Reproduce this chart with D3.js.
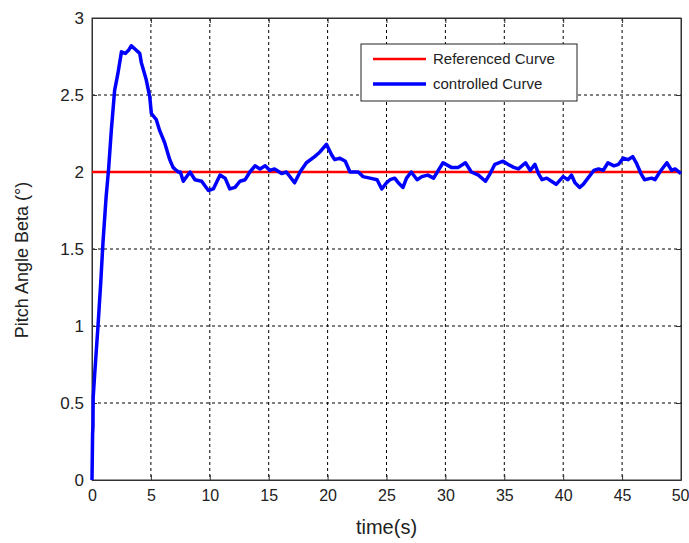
<!DOCTYPE html>
<html>
<head>
<meta charset="utf-8">
<script src="https://cdn.jsdelivr.net/npm/d3@7"></script>
<style>
  body { margin: 0; background: #fff; }
  svg text { font-family: "Liberation Sans", Arial, sans-serif; fill: #222; }
</style>
</head>
<body>
<div id="chart"></div>
<script>
// time axis (s) and pitch angle (deg)
var timeS = [0, 0.05, 0.08, 0.1, 0.12, 0.23, 0.5, 0.74, 0.93, 1.2, 1.4, 1.64, 1.92, 2.2, 2.5, 2.83, 3.1, 3.34, 3.76, 4.05,
  4.19, 4.6, 4.9, 5.04, 5.46, 5.74, 6.17, 6.6, 6.88, 7.16, 7.33, 7.5, 7.75, 8.32, 8.74, 9.31, 9.88, 10.3, 10.87, 11.3,
  11.7, 12.14, 12.56, 13.0, 13.4, 13.84, 14.26, 14.7, 15.1, 15.5, 15.9, 16.1, 16.5, 17.2, 17.66, 18.2, 18.9, 19.35, 19.9, 20.35,
  20.6, 21.05, 21.5, 21.9, 22.6, 23.0, 23.6, 24.2, 24.6, 25.0, 25.3, 25.7, 26.0, 26.4, 26.7, 27.1, 27.6, 28.0, 28.5, 29.0,
  29.4, 29.8, 30.5, 31.1, 31.7, 32.2, 32.8, 33.4, 33.8, 34.2, 34.9, 35.3, 35.8, 36.2, 36.8, 37.2, 37.6, 37.9, 38.2, 38.6,
  39.0, 39.4, 40.0, 40.4, 40.7, 41.0, 41.4, 41.7, 42.1, 42.6, 43.0, 43.4, 43.8, 44.3, 44.7, 45.1, 45.5, 45.9, 46.2, 46.6,
  46.9, 47.5, 47.8, 48.2, 48.8, 49.2, 49.5, 50];
var controlled = [0, 0.3, 0.34, 0.54, 0.56, 0.69, 0.99, 1.28, 1.54, 1.84, 2.01, 2.27, 2.53, 2.64, 2.78, 2.77, 2.79, 2.82, 2.79, 2.77,
  2.71, 2.6, 2.49, 2.38, 2.34, 2.27, 2.19, 2.08, 2.03, 2.01, 2.0, 2.0, 1.94, 2.0, 1.95, 1.94, 1.88, 1.89, 1.98, 1.96,
  1.89, 1.9, 1.94, 1.95, 2.0, 2.04, 2.02, 2.04, 2.01, 2.02, 2.0, 1.99, 2.0, 1.93, 2.0, 2.06, 2.1, 2.13, 2.18, 2.11,
  2.08, 2.09, 2.07, 2.0, 2.0, 1.97, 1.96, 1.95, 1.89, 1.93, 1.95, 1.96, 1.93, 1.9, 1.96, 2.0, 1.95, 1.97, 1.98, 1.96,
  2.01, 2.06, 2.03, 2.03, 2.06, 2.0, 1.98, 1.94, 1.99, 2.05, 2.07, 2.05, 2.03, 2.02, 2.06, 2.01, 2.05, 1.99, 1.95, 1.96,
  1.94, 1.92, 1.97, 1.95, 1.98, 1.93, 1.9, 1.92, 1.96, 2.01, 2.02, 2.01, 2.06, 2.04, 2.05, 2.09, 2.08, 2.1, 2.06, 1.99,
  1.95, 1.96, 1.95, 2.0, 2.06, 2.01, 2.02, 1.99];
var referenceValue = 2;
var xTicks = [0, 5, 10, 15, 20, 25, 30, 35, 40, 45, 50];
var yTicks = [0, 0.5, 1, 1.5, 2, 2.5, 3];
var seriesNames = ["Referenced Curve", "controlled Curve"];

var width = 689,
    height = 543,
    padLeft = 92,
    padTop = 18,
    plotW = 589,
    plotH = 462;

var svg = d3.select("#chart").append("svg")
    .attr("width", width)
    .attr("height", height);

var x = d3.scaleLinear().domain([0, 50]).range([padLeft, padLeft + plotW]);
var y = d3.scaleLinear().domain([0, 3]).range([padTop + plotH, padTop]);

// dashed grid
svg.append("g").selectAll("line").data(xTicks.slice(1, -1)).enter().append("line")
    .attr("x1", function(d) { return x(d); }).attr("x2", function(d) { return x(d); })
    .attr("y1", padTop).attr("y2", padTop + plotH)
    .attr("stroke", "#000").attr("stroke-width", 1).attr("stroke-dasharray", "3,3");
svg.append("g").selectAll("line").data(yTicks.slice(1, -1)).enter().append("line")
    .attr("x1", padLeft).attr("x2", padLeft + plotW)
    .attr("y1", function(d) { return y(d); }).attr("y2", function(d) { return y(d); })
    .attr("stroke", "#000").attr("stroke-width", 1).attr("stroke-dasharray", "3,3");

// axes with inward ticks
var xAxis = svg.append("g")
    .attr("transform", "translate(0," + (padTop + plotH) + ")")
    .call(d3.axisBottom(x).tickValues(xTicks).tickSizeInner(-5).tickSizeOuter(0).tickPadding(10).tickFormat(d3.format("d")));
var yAxis = svg.append("g")
    .attr("transform", "translate(" + padLeft + ",0)")
    .call(d3.axisLeft(y).tickValues(yTicks).tickSizeInner(-5).tickSizeOuter(0).tickPadding(8).tickFormat(function(d) { return String(d); }));
svg.append("g")
    .attr("transform", "translate(0," + padTop + ")")
    .call(d3.axisTop(x).tickValues(xTicks).tickSizeInner(-5).tickSizeOuter(0).tickFormat(""));
svg.append("g")
    .attr("transform", "translate(" + (padLeft + plotW) + ",0)")
    .call(d3.axisRight(y).tickValues(yTicks).tickSizeInner(-5).tickSizeOuter(0).tickFormat(""));

svg.selectAll(".domain").attr("stroke", "#333");
svg.selectAll(".tick line").attr("stroke", "#333");
xAxis.selectAll("text").style("font-size", "16px").attr("fill", "#333");
yAxis.selectAll("text").style("font-size", "17px").attr("fill", "#333");
// keep the last label inside the window
xAxis.selectAll(".tick:last-of-type text").attr("text-anchor", "end").attr("x", 8);

// box
svg.append("rect")
    .attr("x", padLeft).attr("y", padTop).attr("width", plotW).attr("height", plotH)
    .attr("fill", "none").attr("stroke", "#333").attr("stroke-width", 1);

// reference line
svg.append("line")
    .attr("x1", x(0)).attr("x2", x(50))
    .attr("y1", y(referenceValue)).attr("y2", y(referenceValue))
    .attr("stroke", "#ff0000").attr("stroke-width", 2.5);

// controlled curve
var line = d3.line()
    .x(function(d, i) { return x(timeS[i]); })
    .y(function(d) { return y(d); });

svg.append("path")
    .datum(controlled)
    .attr("d", line)
    .attr("fill", "none")
    .attr("stroke", "#0000ff")
    .attr("stroke-width", 3.5)
    .attr("stroke-linejoin", "round");

// legend
var legend = svg.append("g");
legend.append("rect")
    .attr("x", 361).attr("y", 44).attr("width", 216).attr("height", 57)
    .attr("fill", "#fff").attr("stroke", "#222").attr("stroke-width", 1);
var legColors = ["#ff0000", "#0000ff"],
    legWidths = [2.5, 3.5];
seriesNames.forEach(function(name, i) {
    var ly = 59 + i * 25;
    legend.append("line")
        .attr("x1", 373).attr("x2", 426).attr("y1", ly).attr("y2", ly)
        .attr("stroke", legColors[i]).attr("stroke-width", legWidths[i]);
    legend.append("text")
        .attr("x", 433).attr("y", ly + 5)
        .style("font-size", "15px")
        .text(name);
});

// axis titles
svg.append("text")
    .attr("x", x(25)).attr("y", 534)
    .attr("text-anchor", "middle")
    .style("font-size", "20px")
    .text("time(s)");
svg.append("text")
    .attr("transform", "translate(28,260) rotate(-90)")
    .attr("text-anchor", "middle")
    .style("font-size", "18px")
    .text("Pitch Angle Beta (°)");
</script>
</body>
</html>
